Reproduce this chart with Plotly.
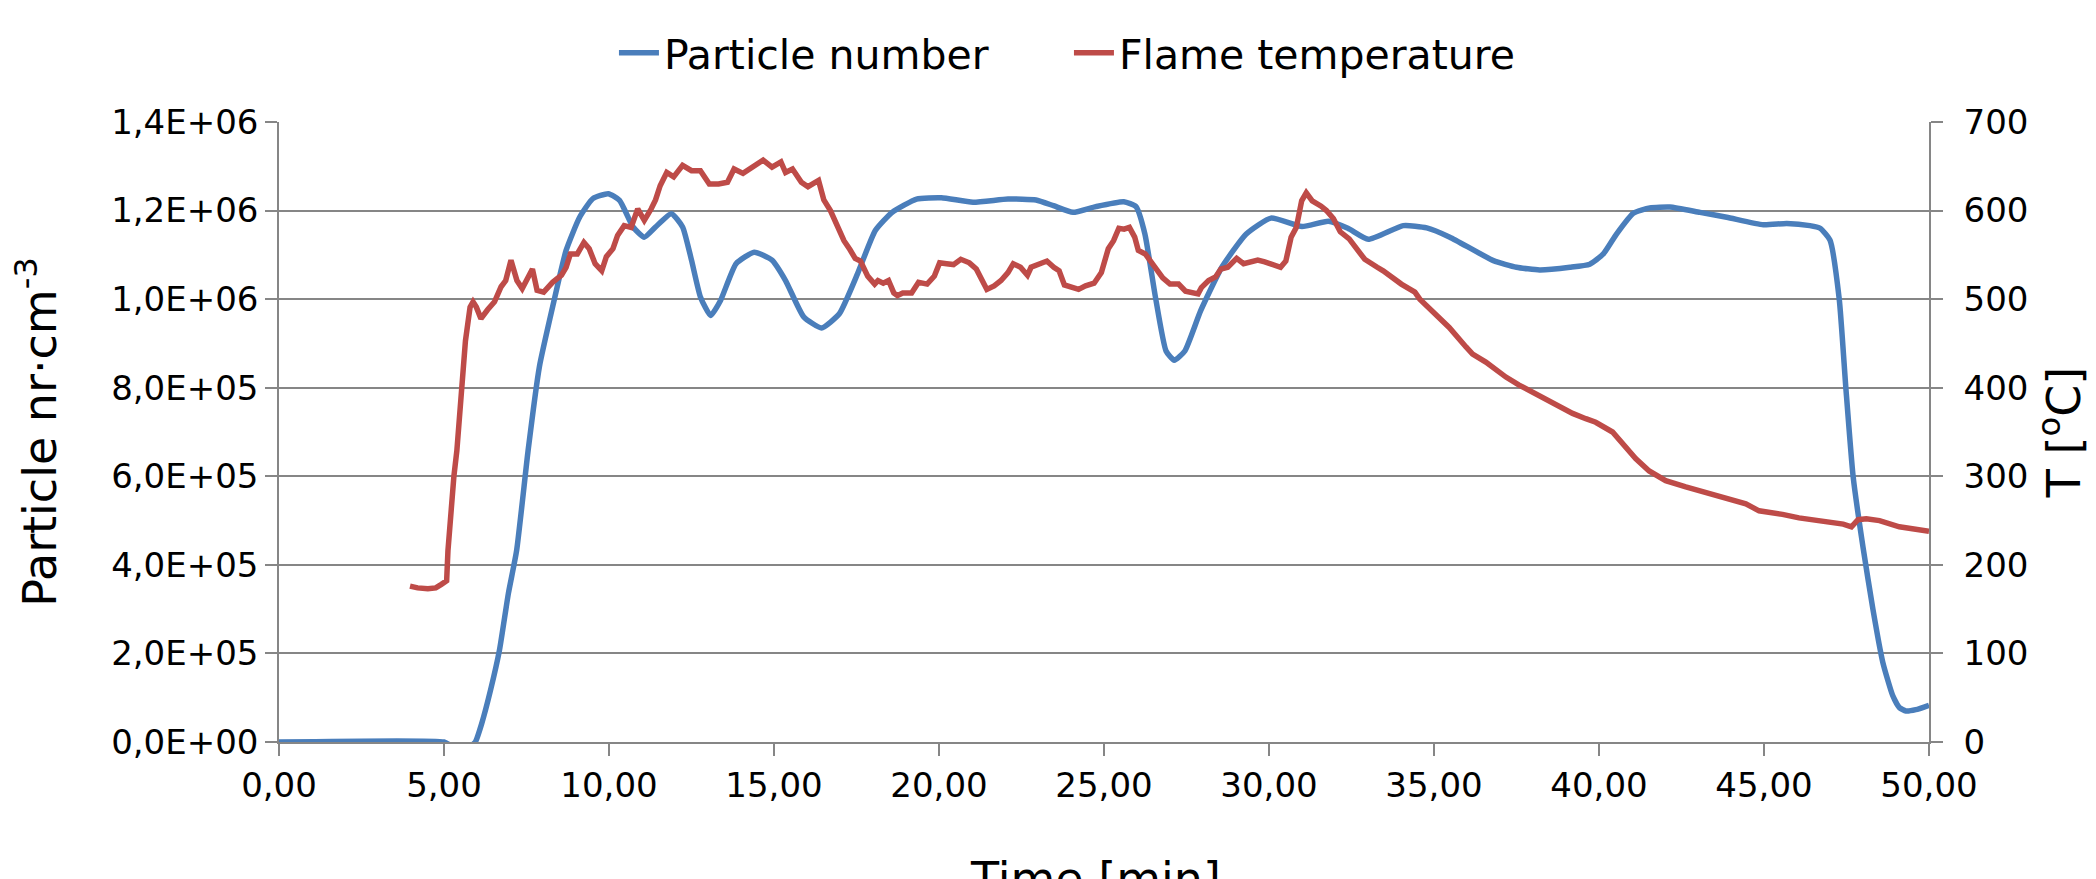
import plotly.graph_objects as go

# ---------------- data ----------------
pn_time = [0, 5.0, 5.2, 5.5, 5.8, 5.95, 6.14, 6.41, 6.68, 6.95, 7.2, 7.55, 7.89, 8.29, 8.7,
           9.11, 9.51, 9.98, 10.32, 10.73, 11.07, 11.41, 11.89, 12.23, 12.5, 12.77, 13.08,
           13.38, 13.85, 14.4, 14.94, 15.35, 15.9, 16.44, 16.98, 17.53, 18.07, 18.58, 19.32,
           20.07, 21.03, 22.09, 22.94, 23.47, 24.06, 24.75, 25.6, 25.97, 26.24, 26.56, 26.88,
           27.13, 27.45, 27.93, 28.57, 29.31, 30.06, 31.0, 31.8, 32.39, 33.01, 34.07, 34.78,
           35.48, 36.8, 37.5, 38.2, 39.12, 39.72, 40.13, 40.53, 41.04, 41.54, 42.15, 43.06,
           43.87, 44.98, 45.69, 46.39, 46.7, 47.0, 47.28, 47.48, 47.7, 48.0, 48.3, 48.6,
           48.9, 49.1, 49.3, 49.6, 50.0]
pn_value = [0, 0, -8000, -25000, -10000, 0, 41000, 117000, 207000, 335000, 432000, 659000,
            847000, 982000, 1110000, 1185000, 1227000, 1238000, 1223000, 1163000, 1140000,
            1163000, 1193000, 1163000, 1088000, 1005000, 963000, 997000, 1080000, 1106000,
            1088000, 1042000, 960000, 935000, 967000, 1057000, 1155000, 1196000, 1226000,
            1229000, 1219000, 1226000, 1224000, 1211000, 1196000, 1209000, 1220000, 1209000,
            1147000, 1004000, 883000, 862000, 883000, 974000, 1072000, 1147000, 1183000,
            1164000, 1176000, 1160000, 1135000, 1166000, 1161000, 1140000, 1087000, 1072000,
            1066000, 1072000, 1079000, 1102000, 1147000, 1194000, 1206000, 1208000, 1196000,
            1185000, 1168000, 1171000, 1166000, 1160000, 1133000, 1000000, 800000, 600000,
            440000, 300000, 180000, 105000, 78000, 70000, 73000, 83000]

ft_time = [3.97, 4.2, 4.51, 4.75, 4.92, 5.08, 5.12, 5.2, 5.3, 5.39, 5.52, 5.65, 5.79, 5.88,
           5.98, 6.12, 6.32, 6.53, 6.73, 6.87, 7.03, 7.21, 7.37, 7.55, 7.68, 7.82, 8.02, 8.29,
           8.56, 8.7, 8.83, 9.04, 9.24, 9.4, 9.58, 9.78, 9.92, 10.12, 10.26, 10.46, 10.67,
           10.87, 11.07, 11.28, 11.41, 11.55, 11.75, 11.96, 12.23, 12.5, 12.77, 13.04, 13.32,
           13.59, 13.79, 14.06, 14.4, 14.67, 14.94, 15.21, 15.35, 15.56, 15.83, 16.03, 16.35,
           16.51, 16.71, 16.92, 17.12, 17.3, 17.46, 17.62, 17.84, 18.05, 18.15, 18.31, 18.47,
           18.63, 18.74, 18.9, 19.17, 19.38, 19.64, 19.86, 20.02, 20.23, 20.44, 20.66, 20.92,
           21.13, 21.29, 21.45, 21.67, 21.88, 22.09, 22.25, 22.47, 22.68, 22.79, 23.05, 23.27,
           23.48, 23.64, 23.8, 24.01, 24.23, 24.44, 24.7, 24.92, 25.13, 25.29, 25.45, 25.61,
           25.77, 25.93, 26.04, 26.25, 26.41, 26.57, 26.78, 27.0, 27.26, 27.47, 27.69, 27.85,
           27.95, 28.17, 28.38, 28.54, 28.75, 28.91, 29.02, 29.23, 29.44, 29.66, 29.87, 30.08,
           30.35, 30.51, 30.67, 30.83, 30.99, 31.13, 31.31, 31.58, 31.74, 31.95, 32.16, 32.43,
           32.65, 32.9, 33.28, 33.46, 34.01, 34.27, 34.42, 34.57, 34.88, 35.26, 35.46, 35.97,
           36.17, 36.57, 36.88, 37.18, 37.58, 38.19, 38.6, 39.2, 39.6, 39.9, 40.41, 40.81,
           41.11, 41.52, 42.02, 42.63, 43.34, 43.94, 44.45, 44.85, 45.26, 45.56, 46.06, 46.7,
           47.4, 47.65, 47.85, 48.1, 48.5, 49.1, 50.0]
ft_value = [176, 174, 173, 174, 178, 182, 216, 262, 300, 329, 397, 453, 491, 497, 491, 478,
            488, 497, 514, 521, 544, 521, 512, 525, 534, 510, 508, 519, 527, 536, 551, 551,
            564, 557, 540, 532, 548, 557, 572, 583, 581, 602, 589, 602, 612, 628, 643, 638,
            651, 645, 645, 630, 630, 632, 647, 642, 651, 657, 649, 655, 643, 647, 632, 627,
            634, 612, 600, 581, 566, 556, 546, 543, 526, 517, 521, 518, 521, 507, 504, 507,
            507, 519, 517, 526, 541, 540, 539, 545, 541, 534, 523, 511, 515, 521, 530, 540,
            536, 527, 536, 540, 543, 536, 532, 516, 513, 511, 515, 518, 530, 557, 566, 580,
            579, 581, 570, 555, 551, 543, 534, 524, 517, 517, 509, 507, 506, 513, 521, 525,
            534, 536, 543, 546, 540, 542, 544, 542, 540, 536, 543, 570, 581, 611, 620, 611,
            605, 600, 591, 576, 568, 557, 545, 536, 532, 517, 511, 508, 500, 489, 476, 468,
            446, 438, 429, 420, 412, 403, 391, 382, 371, 365, 361, 350, 333, 320, 306, 295,
            288, 280, 274, 269, 261, 259, 257, 253, 250, 246, 243, 251, 252, 250, 243, 238]

x_tickvals = [0, 5, 10, 15, 20, 25, 30, 35, 40, 45, 50]
x_ticktext = ["0,00", "5,00", "10,00", "15,00", "20,00", "25,00", "30,00", "35,00",
              "40,00", "45,00", "50,00"]
y_tickvals = [0, 200000, 400000, 600000, 800000, 1000000, 1200000, 1400000]
y_ticktext = ["0,0E+00", "2,0E+05", "4,0E+05", "6,0E+05", "8,0E+05", "1,0E+06",
              "1,2E+06", "1,4E+06"]
y2_tickvals = [0, 100, 200, 300, 400, 500, 600, 700]

# ---------------- figure ----------------
FONT = "DejaVu Sans"
GRID = "#868686"
BLUE = "#4A7EBB"
RED = "#BE4B48"

fig = go.Figure()
fig.add_trace(go.Scatter(x=pn_time, y=pn_value, name="Particle number", mode="lines",
                         line=dict(color=BLUE, width=5.5, shape="spline", smoothing=0.5),
                         yaxis="y"))
fig.add_trace(go.Scatter(x=ft_time, y=ft_value, name="Flame temperature", mode="lines",
                         line=dict(color=RED, width=5.5), yaxis="y2"))

fig.update_layout(
    width=2096, height=879,
    margin=dict(l=279, r=167, t=122, b=137, pad=0),
    paper_bgcolor="white", plot_bgcolor="white",
    font=dict(family=FONT, color="black", size=34),
    showlegend=True,
    legend=dict(orientation="h", x=0.203, xanchor="left", y=1.111, yanchor="middle",
                font=dict(size=41, family=FONT), bgcolor="rgba(0,0,0,0)",
                itemwidth=40, entrywidth=400, tracegroupgap=0),
    xaxis=dict(range=[0, 50], tickvals=x_tickvals, ticktext=x_ticktext,
               showgrid=False, zeroline=False, showline=True, linecolor=GRID, linewidth=1.5,
               ticks="outside", ticklen=12, tickcolor=GRID, tickwidth=1.5,
               tickfont=dict(size=34, family=FONT)),
    yaxis=dict(range=[0, 1400000], tickvals=y_tickvals, ticktext=y_ticktext,
               showgrid=True, gridcolor=GRID, gridwidth=1.5, zeroline=False,
               showline=True, linecolor=GRID, linewidth=1.5,
               ticks="outside", ticklen=12, tickcolor=GRID, tickwidth=1.5,
               tickfont=dict(size=34, family=FONT),
               title=dict(text="Particle nr·cm<sup>-3</sup>", font=dict(size=46, family=FONT),
                          standoff=40)),
    yaxis2=dict(range=[0, 700], tickvals=y2_tickvals, overlaying="y", side="right",
                showgrid=False, zeroline=False, showline=True, linecolor=GRID, linewidth=1.5,
                ticks="outside", ticklen=12, tickcolor=GRID, tickwidth=1.5,
                ticklabelstandoff=14,
                tickfont=dict(size=34, family=FONT),
                title=dict(text="T [<sup>o</sup>C]", font=dict(size=46, family=FONT),
                           standoff=20)),
)

fig.add_annotation(text="Time [min]", xref="paper", yref="paper", x=0.495, y=-0.174,
                   xanchor="center", yanchor="top", showarrow=False,
                   font=dict(size=46, family=FONT, color="black"))

fig.write_html("out.html")
